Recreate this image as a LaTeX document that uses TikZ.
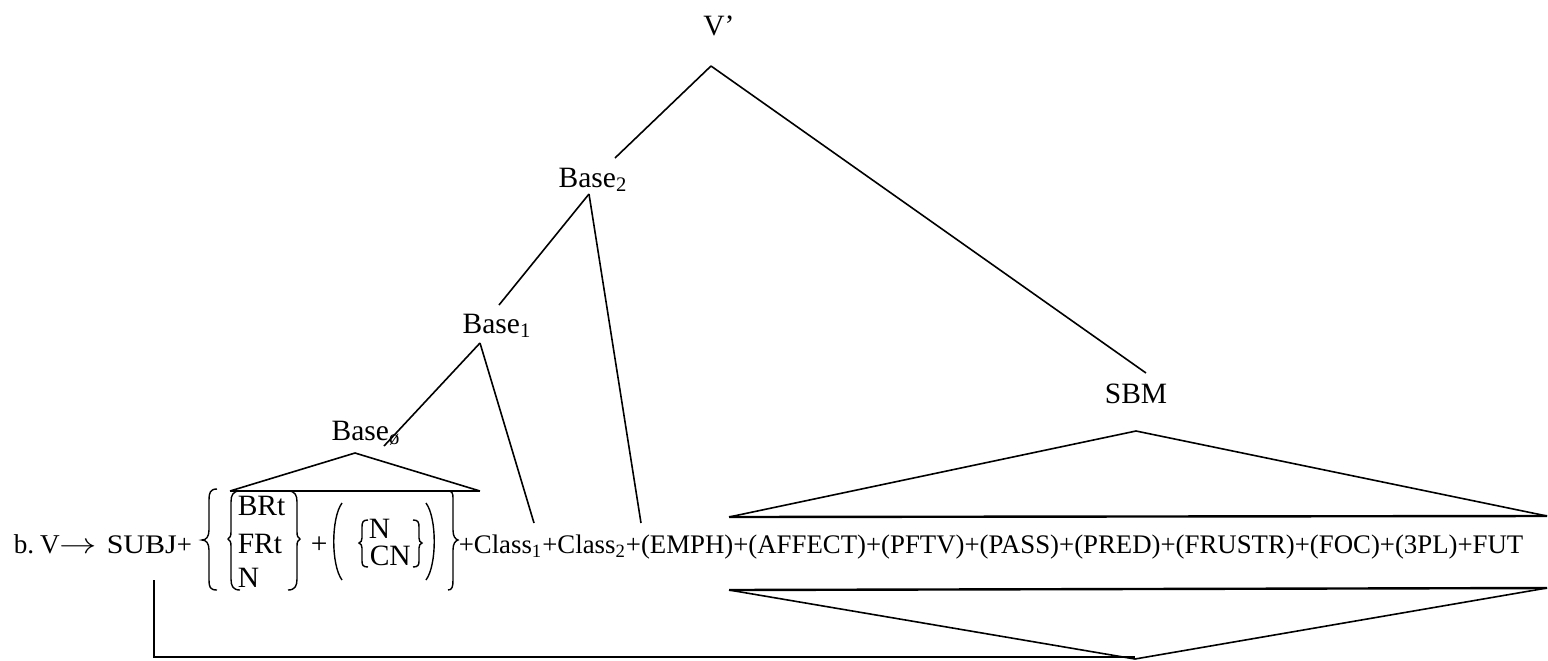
\documentclass[tikz,border=0pt]{standalone}
\usepackage{fontspec}
\setmainfont{Liberation Serif}

\begin{document}
\begin{tikzpicture}[x=0.5pt,y=-0.5pt,line width=0.8pt,
  lab/.style={inner sep=0pt,anchor=base,font=\fontsize{14.75}{17}\selectfont},
  big/.style={inner sep=0pt,anchor=base west,font=\fontsize{14.75}{17}\selectfont},
  rule/.style={inner sep=0pt,anchor=base west,font=\fontsize{13.4}{16}\selectfont},
  brace/.style={line width=0.7pt},
  baseline/.style={line width=1.2pt}]
\useasboundingbox (0,0) rectangle (1548,660);

% tree labels
\node[lab] (vp)  at (719,35)  {V’};
\node[lab] (b2)  at (593,187) {Base\textsubscript{2}};
\node[lab] (b1)  at (497,333) {Base\textsubscript{1}};
\node[lab] (b0)  at (366,440) {Base\textsubscript{ø}};
\node[lab] (sbm) at (1136,403) {SBM};

% line ends
\coordinate (vp-a) at (711,66);
\coordinate (b2-t) at (615,158);
\coordinate (sbm-t) at (1146,373);
\coordinate (b2-a) at (589,194);
\coordinate (b1-t) at (499,305);
\coordinate (c2-t) at (641,523);
\coordinate (b1-a) at (480,343);
\coordinate (b0-t) at (384,446);
\coordinate (c1-t) at (534,523);

\draw (vp-a) -- (b2-t);
\draw (vp-a) -- (sbm-t);
\draw (b2-a) -- (b1-t);
\draw (b2-a) -- (c2-t);
\draw (b1-a) -- (b0-t);
\draw (b1-a) -- (c1-t);

% triangles
\draw (230,491) -- (355,453) -- (480,491);
\draw[baseline] (230,491) -- (480,491);
\draw (729,517) -- (1136,431) -- (1547,516);
\draw[baseline] (729,517) -- (1547,516);
\draw (729,590) -- (1135,659) -- (1547,588);
\draw[baseline] (729,590) -- (1547,588);

% the rule
\node[big,font=\fontsize{13.6}{16}\selectfont] (lhs) at (13,553) {b.\kern3pt V};
\node[big] (arr) at (59,553) {\scalebox{1.3}[1]{$\rightarrow$}};
\node[rule] (subj) at (106,553) {\scalebox{1.12}[1]{SUBJ}+};
\node[big] (brt) at (237,515) {BRt};
\node[big] (frt) at (237,553) {FRt};
\node[big] (n1)  at (237,587) {N};
\node[big] (pl)  at (310,553) {+};
\node[big] (n2)  at (368,538) {N};
\node[big] (cn)  at (369,565) {CN};
\node[rule] (rest) at (458,553) {+Class\textsubscript{1}+Class\textsubscript{2}+(EMPH)+(AFFECT)+(PFTV)+(PASS)+(PRED)+(FRUSTR)+(FOC)+(3PL)+FUT};

% braces and parentheses
\draw[brace] (217,489) .. controls (210,489) and (209,493) .. (209,500) -- (209,530)
  .. controls (209,537) and (206,540) .. (202,540) .. controls (206,540) and (209,543) .. (209,550)
  -- (209,580) .. controls (209,587) and (210,590) .. (217,590);
\draw[brace] (240,491) .. controls (233,491) and (231,495) .. (231,502) -- (231,532)
  .. controls (231,536) and (230,538) .. (228,539) .. controls (230,540) and (231,542) .. (231,546)
  -- (231,579) .. controls (231,586) and (233,590) .. (240,590);
\draw[brace] (288,491) .. controls (295,491) and (297,495) .. (297,502) -- (297,532)
  .. controls (297,536) and (298,538) .. (300,539) .. controls (298,540) and (297,542) .. (297,546)
  -- (297,579) .. controls (297,586) and (295,590) .. (288,590);
\draw[brace] (342,503) .. controls (331,518) and (331,565) .. (342,580);
\draw[brace] (368,520) .. controls (363,520) and (362,522) .. (362,527) -- (362,538)
  .. controls (362,541) and (361,542) .. (359,543) .. controls (361,544) and (362,545) .. (362,548)
  -- (362,561) .. controls (362,565) and (363,567) .. (368,567);
\draw[brace] (413,520) .. controls (418,520) and (419,522) .. (419,527) -- (419,538)
  .. controls (419,541) and (420,542) .. (422,543) .. controls (420,544) and (419,545) .. (419,548)
  -- (419,561) .. controls (419,565) and (418,567) .. (413,567);
\draw[brace] (426,503) .. controls (437,518) and (437,565) .. (426,580);
\draw[brace] (448,491) .. controls (452,491) and (453,493) .. (453,498) -- (453,530)
  .. controls (453,536) and (455,539) .. (458,540) .. controls (455,541) and (453,544) .. (453,550)
  -- (453,580) .. controls (453,587) and (452,590) .. (448,590);

% subject link
\coordinate (subj-f) at (154,580);
\coordinate (low-a) at (1135,657);
\draw (subj-f) |- (low-a);
\end{tikzpicture}
\end{document}
